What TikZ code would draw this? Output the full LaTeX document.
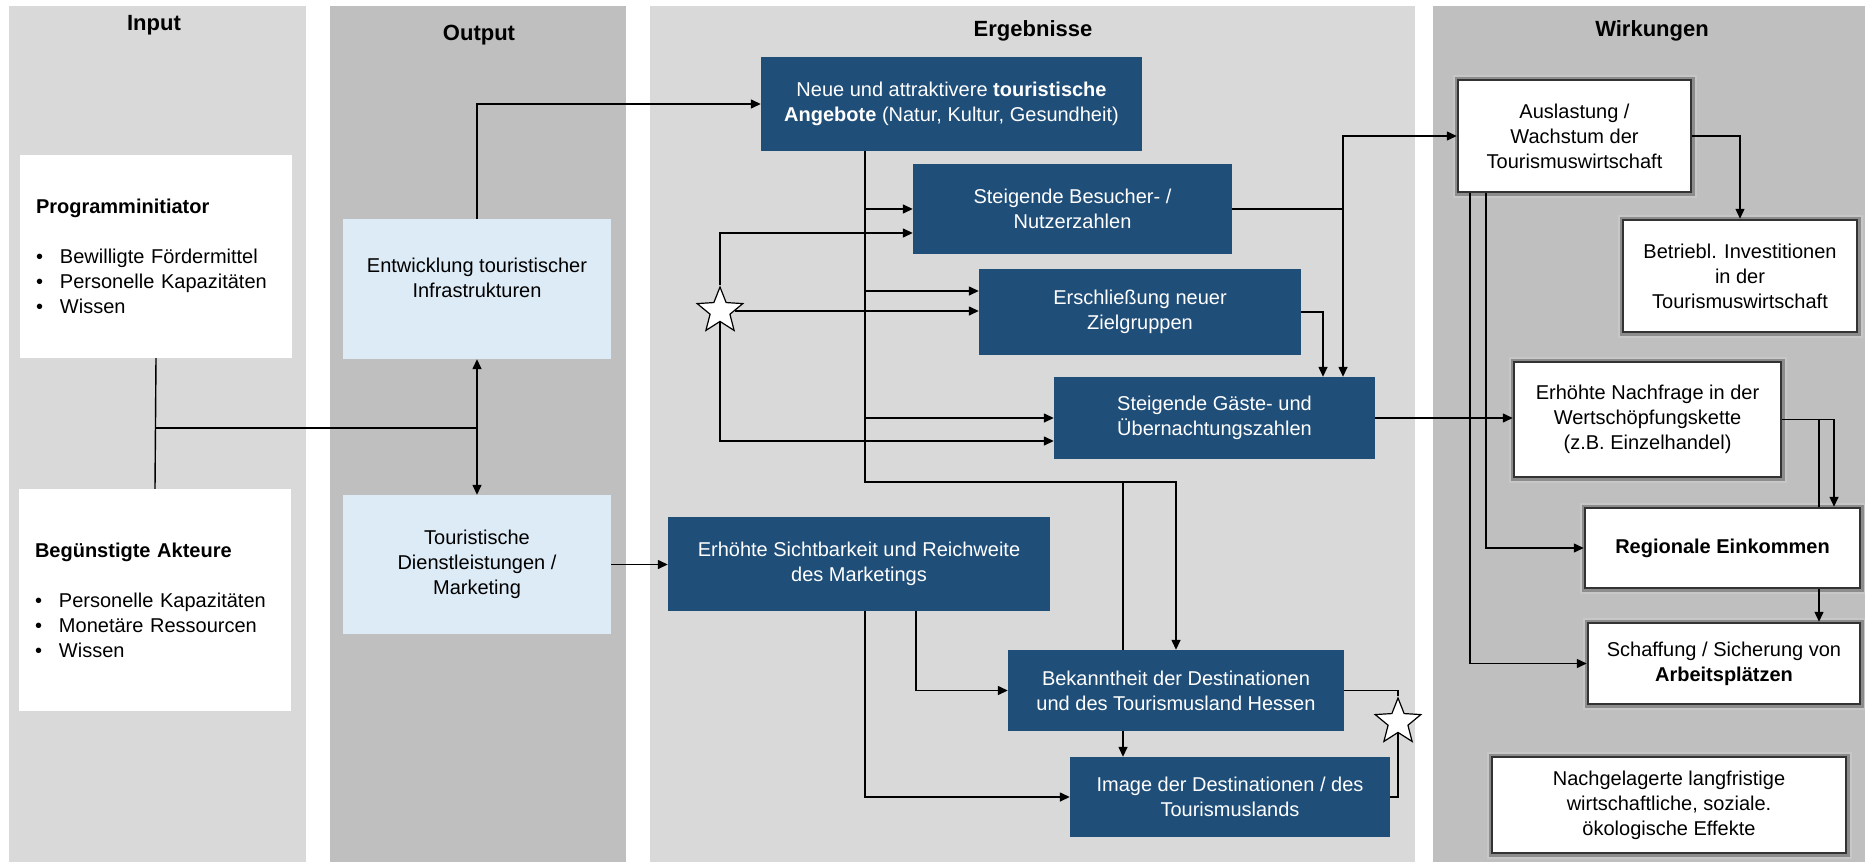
\documentclass[tikz,border=0pt]{standalone}
\usepackage{fontspec}
\setmainfont{Liberation Sans}
\usepackage{xcolor}
\usepackage{tikz}
\usetikzlibrary{positioning,arrows.meta,shapes.geometric}
\definecolor{ergblue}{RGB}{31,78,121}
\definecolor{outblue}{RGB}{221,235,247}
\definecolor{bglight}{RGB}{217,217,217}
\definecolor{bgdark}{RGB}{191,191,191}
\newcommand{\bul}{\makebox[24pt][l]{•}}

\begin{document}
\begin{tikzpicture}[
  x=1pt, y=-1pt,
  txt/.style={font=\fontsize{20}{25}\selectfont, align=center},
  head/.style={font=\fontsize{22}{26}\selectfont\bfseries},
  inbox/.style={txt, fill=white, align=left, minimum width=272pt, text width=240pt, inner sep=0pt},
  outbox/.style={txt, fill=outblue, minimum width=268pt, inner sep=0pt},
  ergbox/.style={txt, fill=ergblue, text=white, inner sep=0pt},
  wbox/.style={txt, fill=white, draw=black!80, line width=2.5pt, inner sep=0pt,
    preaction={draw=black!22, line width=11pt}, preaction={draw=black!45, line width=7pt}},
  stern/.style={star, star points=5, star point ratio=2.3, minimum size=48pt, inner sep=0pt, draw, fill=white, line width=1.2pt},
  arr/.style={-{Triangle[length=10pt, width=9pt]}, line width=1.4pt},
  lin/.style={line width=1.4pt}
]
\useasboundingbox (0,0) rectangle (1865,862);
\fill[bglight] (9,6) rectangle (306,862);
\fill[bgdark] (330,6) rectangle (626,862);
\fill[bglight] (650,6) rectangle (1415,862);
\fill[bgdark] (1433,6) rectangle (1865,862);

\node[head] (tin) at (154,25) {Input};
\node[head] (tout) at (479,35) {Output};
\node[head] (terg) at (1033,31) {Ergebnisse};
\node[head] (twir) at (1652,31) {Wirkungen};

\node[inbox, minimum height=203pt] (prog) at (156,256.5) {\textbf{Programminitiator}\\[25pt]\bul Bewilligte Fördermittel\\\bul Personelle Kapazitäten\\\bul Wissen};
\node[inbox, minimum height=222pt] (beg) at (155,600) {\textbf{Begünstigte Akteure}\\[25pt]\bul Personelle Kapazitäten\\\bul Monetäre Ressourcen\\\bul Wissen};

\node[outbox, minimum height=140pt] (entw) at (477,289) {};
\node[txt] (entwtx) at (477,278) {Entwicklung touristischer\\Infrastrukturen};
\node[outbox, minimum height=139pt] (tour) at (477,564.5) {Touristische\\Dienstleistungen /\\Marketing};

\node[ergbox, minimum width=381pt, minimum height=94pt] (neue) at (951.5,104) {Neue und attraktivere \textbf{touristische}\\\textbf{Angebote} (Natur, Kultur, Gesundheit)};
\node[ergbox, minimum width=319pt, minimum height=90pt] (besu) at (1072.5,209) {Steigende Besucher- /\\Nutzerzahlen};
\node[ergbox, minimum width=322pt, minimum height=86pt] (ziel) at (1140,312) {Erschließung neuer\\Zielgruppen};
\node[ergbox, minimum width=321pt, minimum height=82pt] (gast) at (1214.5,418) {Steigende Gäste- und\\Übernachtungszahlen};
\node[ergbox, minimum width=382pt, minimum height=94pt] (sicht) at (859,564) {Erhöhte Sichtbarkeit und Reichweite\\des Marketings};
\node[ergbox, minimum width=336pt, minimum height=81pt] (bek) at (1176,690.5) {Bekanntheit der Destinationen\\und des Tourismusland Hessen};
\node[ergbox, minimum width=320pt, minimum height=80pt] (img) at (1230,797) {Image der Destinationen / des\\Tourismuslands};

\node[wbox, minimum width=233pt, minimum height=112pt] (aus) at (1574.5,136) {Auslastung /\\Wachstum der\\Tourismuswirtschaft};
\node[wbox, minimum width=234pt, minimum height=112pt] (betr) at (1740,276) {Betriebl. Investitionen\\in der\\Tourismuswirtschaft};
\node[wbox, minimum width=267pt, minimum height=115pt] (nach) at (1647.5,419.5) {Erhöhte Nachfrage in der\\Wertschöpfungskette\\(z.B. Einzelhandel)};
\node[wbox, minimum width=275pt, minimum height=80pt] (reg) at (1722.5,548) {\textbf{Regionale Einkommen}};
\node[wbox, minimum width=272pt, minimum height=81pt] (schaf) at (1724,663.5) {Schaffung / Sicherung von\\\textbf{Arbeitsplätzen}};
\node[wbox, minimum width=354pt, minimum height=96pt] (nachg) at (1669,805) {Nachgelagerte langfristige\\wirtschaftliche, soziale.\\ökologische Effekte};

\node[stern] (st1) at (720,311) {};
\node[stern] (st2) at (1398,722) {};

\coordinate (split) at (155,428);
\coordinate (jn) at (477,428);
\coordinate (trunk) at (865,482);
\coordinate (tap) at (1123,482);
\coordinate (bv) at (1343,209);
\coordinate (zv) at (1323,312);
\coordinate (z1) at ([yshift=21pt]ziel.west);
\coordinate (b2) at ([yshift=-24pt]besu.west);
\coordinate (g2) at ([yshift=-23pt]gast.west);
\coordinate (sv) at ([xshift=57pt]sicht.south);
\coordinate (av1) at ([xshift=-104.5pt]aus.south);
\coordinate (av2) at ([xshift=-88.5pt]aus.south);
\coordinate (nv1) at ([xshift=96.5pt]reg.north);
\coordinate (nv2) at ([xshift=111.5pt]reg.north);

\draw[lin] (prog.south) -- (beg.north);
\draw[lin] (split) -- (jn);
\draw[arr] (jn) -- (entw.south);
\draw[arr] (jn) -- (tour.north);
\draw[arr] (entw.north) |- (neue.west);
\draw[arr] (neue.south -| trunk) -- (trunk) -| (bek.north);
\draw[lin] (tap) -- (tap |- bek.north);
\draw[arr] (tap |- bek.south) -- (tap |- img.north);
\draw[arr] (trunk |- besu.west) -- (besu.west);
\draw[arr] (trunk |- z1) -- (z1);
\draw[arr] (trunk |- gast.west) -- (gast.west);
\draw[arr] (st1.north) |- (b2);
\draw[arr] (st1.east) -- (st1.east -| ziel.west);
\draw[arr] (st1.south) |- (g2);
\draw[lin] (besu.east) -- (bv);
\draw[arr] (bv) |- (aus.west);
\draw[arr] (bv) -- (bv |- gast.north);
\draw[arr] (ziel.east) -| (zv |- gast.north);
\draw[arr] (gast.east) -- (gast.east -| nach.west);
\draw[arr] (tour.east) -- (tour.east -| sicht.west);
\draw[arr] (sv) |- (bek.west);
\draw[arr] (sicht.south -| trunk) |- (img.west);
\draw[lin] (bek.east) -| (st2.north);
\draw[lin] (img.east) -| (st2.south);
\draw[arr] (aus.east) -| (betr.north);
\draw[arr] (av1) |- (schaf.west);
\draw[arr] (av2) |- (reg.west);
\draw[arr] (nach.east) -| (nv2);
\draw[lin] (nach.east -| nv1) -- (nv1);
\draw[arr] (nv1 |- reg.south) -- (nv1 |- schaf.north);
\end{tikzpicture}
\end{document}
